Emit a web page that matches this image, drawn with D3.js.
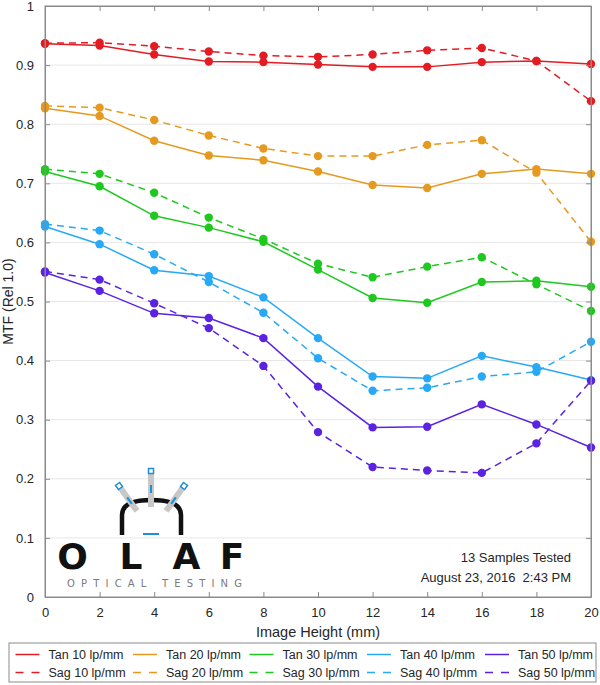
<!DOCTYPE html>
<html><head><meta charset="utf-8">
<script src="https://cdn.jsdelivr.net/npm/d3@7"></script>
<style>
html,body{margin:0;padding:0;background:#fff;}
svg{display:block;font-family:"Liberation Sans",Arial,sans-serif;}
</style></head>
<body>
<svg id="c" width="600" height="685"></svg>
<script>
const imageHeight = [0,2,4,6,8,10,12,14,16,18,20];
const seriesNames = ["Tan 10 lp/mm","Tan 20 lp/mm","Tan 30 lp/mm","Tan 40 lp/mm","Tan 50 lp/mm",
                     "Sag 10 lp/mm","Sag 20 lp/mm","Sag 30 lp/mm","Sag 40 lp/mm","Sag 50 lp/mm"];
const tan10 = [.936,.933,.918,.906,.905,.901,.897,.897,.905,.907,.902];
const tan20 = [.827,.814,.772,.747,.739,.720,.697,.692,.716,.724,.716];
const tan30 = [.720,.695,.645,.625,.601,.554,.506,.498,.533,.535,.525];
const tan40 = [.627,.597,.553,.543,.507,.438,.373,.370,.408,.389,.367];
const tan50 = [.549,.518,.480,.472,.438,.356,.287,.288,.326,.292,.253];
const sag10 = [.937,.938,.932,.923,.916,.914,.918,.925,.929,.907,.839];
const sag20 = [.831,.828,.807,.781,.759,.746,.746,.765,.773,.718,.601];
const sag30 = [.724,.716,.684,.642,.606,.564,.541,.559,.575,.529,.484];
const sag40 = [.631,.620,.580,.533,.481,.404,.349,.354,.373,.381,.432];
const sag50 = [.551,.537,.497,.455,.391,.279,.220,.214,.210,.260,.366];
const seriesValues = [tan10,tan20,tan30,tan40,tan50,sag10,sag20,sag30,sag40,sag50];
const colors = ["#e31c23","#e6991f","#1ec81e","#27a9f5","#5a23e0"];
const xTicks = [0,2,4,6,8,10,12,14,16,18,20];
const yTicks = [0,0.1,0.2,0.3,0.4,0.5,0.6,0.7,0.8,0.9,1];
const yTickLabels = ["0","0.1","0.2","0.3","0.4","0.5","0.6","0.7","0.8","0.9","1"];
const xLabel = "Image Height (mm)";
const yLabel = "MTF (Rel 1.0)";
const notes = ["13 Samples Tested","August 23, 2016  2:43 PM"];

const svg = d3.select("#c");
const L = 45, R = 591, T = 6, B = 597;
const x = d3.scaleLinear().domain([0,20]).range([L,R]);
const y = d3.scaleLinear().domain([0,1]).range([B,T]);
const axisCol = "#8a8a8a";

// grid
svg.append("g").selectAll("line").data(yTicks.slice(1,-1)).join("line")
  .attr("x1",L).attr("x2",R).attr("y1",d=>y(d)).attr("y2",d=>y(d))
  .attr("stroke","#e6e6e6").attr("stroke-width",1);

// logo
const logo = svg.append("g");
logo.append("path").attr("d","M122,535 L122,515 Q122,500 151.5,500 Q181,500 181,515 L181,535")
  .attr("fill","none").attr("stroke","#111").attr("stroke-width",4.5);
logo.append("line").attr("x1",143).attr("x2",159).attr("y1",534).attr("y2",534).attr("stroke","#1e8fd8").attr("stroke-width",2);
function bar(x1,y1,x2,y2){
  logo.append("line").attr("x1",x1).attr("y1",y1).attr("x2",x2).attr("y2",y2)
    .attr("stroke","#c8c8c8").attr("stroke-width",6);
  const dx=x2-x1, dy=y2-y1, len=Math.hypot(dx,dy), ux=dx/len, uy=dy/len;
  logo.append("line").attr("x1",x1+ux*14).attr("y1",y1+uy*14).attr("x2",x1+ux*22).attr("y2",y1+uy*22)
    .attr("stroke","#1e8fd8").attr("stroke-width",2);
  logo.append("rect").attr("x",x1-2.5).attr("y",y1-2.5).attr("width",5).attr("height",5)
    .attr("fill","#fff").attr("stroke","#1e8fd8").attr("stroke-width",1.5)
    .attr("transform",`rotate(${Math.atan2(dy,dx)*180/Math.PI-90},${x1},${y1})`);
}
bar(151,471,151,507);
bar(119,486,137,511);
bar(184,486,166,511);
const letters = [["O",72.5],["L",131],["A",186.5],["F",232]];
logo.selectAll("text.big").data(letters).join("text").attr("class","big")
  .attr("x",d=>d[1]).attr("y",569).attr("text-anchor","middle")
  .attr("font-family","'DejaVu Sans',sans-serif").attr("font-weight","bold").attr("font-size",36)
  .attr("fill","#111").text(d=>d[0]);
logo.append("text").attr("x",67).attr("y",586.5).attr("textLength",175).attr("lengthAdjust","spacing")
  .attr("font-family","'DejaVu Sans',sans-serif").attr("font-size",10).attr("fill","#7a7a7a")
  .text("OPTICAL TESTING");

// series
const lineGen = d3.line().x((d,i)=>x(imageHeight[i])).y(d=>y(d));
seriesValues.forEach((vals,k)=>{
  const col = colors[k%5], dashed = k>=5;
  const g = svg.append("g");
  g.append("path").attr("d",lineGen(vals)).attr("fill","none").attr("stroke",col)
    .attr("stroke-width",1.5).attr("stroke-dasharray",dashed?"7,5":null);
  g.selectAll("circle").data(vals).join("circle")
    .attr("cx",(d,i)=>x(imageHeight[i])).attr("cy",d=>y(d)).attr("r",4.2).attr("fill",col);
});

// box & axes
svg.append("rect").attr("x",L).attr("y",T).attr("width",R-L).attr("height",B-T)
  .attr("fill","none").attr("stroke",axisCol).attr("stroke-width",1);
const axBottom = d3.axisBottom(x).tickValues(xTicks).tickSizeInner(-5).tickSizeOuter(0).tickPadding(11);
const axTop = d3.axisTop(x).tickValues(xTicks).tickSizeInner(-5).tickSizeOuter(0).tickFormat("");
const axLeft = d3.axisLeft(y).tickValues(yTicks).tickSizeInner(-5).tickSizeOuter(0).tickPadding(11)
  .tickFormat((d,i)=>yTickLabels[i]);
const axRight = d3.axisRight(y).tickValues(yTicks).tickSizeInner(-5).tickSizeOuter(0).tickFormat("");
function styleAx(g){
  g.select(".domain").attr("stroke",axisCol);
  g.selectAll(".tick line").attr("stroke",axisCol);
  g.selectAll(".tick text").attr("fill","#262626").attr("font-size",13)
    .attr("font-family","'Liberation Sans',Arial,sans-serif");
}
svg.append("g").attr("transform",`translate(0,${B})`).call(axBottom).call(styleAx);
svg.append("g").attr("transform",`translate(0,${T})`).call(axTop).call(styleAx);
svg.append("g").attr("transform",`translate(${L},0)`).call(axLeft).call(styleAx);
svg.append("g").attr("transform",`translate(${R},0)`).call(axRight).call(styleAx);

svg.append("text").attr("x",(L+R)/2).attr("y",637).attr("text-anchor","middle")
  .attr("font-size",14.5).attr("fill","#262626").text(xLabel);
svg.append("text").attr("transform",`translate(13,${(T+B)/2}) rotate(-90)`).attr("text-anchor","middle")
  .attr("font-size",14).attr("fill","#262626").text(yLabel);

// notes
svg.selectAll("text.note").data(notes).join("text").attr("class","note")
  .attr("x",571).attr("y",(d,i)=>562+i*20).attr("text-anchor","end")
  .style("white-space","pre")
  .attr("font-size",13).attr("fill","#262626").text(d=>d);

// legend
const lg = svg.append("g");
lg.append("rect").attr("x",9).attr("y",643).attr("width",587).attr("height",39)
  .attr("fill","#fff").attr("stroke","#8a8a8a").attr("stroke-width",1);
const colX = [15.5,133,249.5,367,485];
seriesNames.forEach((name,k)=>{
  const c = k%5, r = Math.floor(k/5);
  const ly = r===0?654.5:672.5;
  lg.append("line").attr("x1",colX[c]).attr("x2",colX[c]+24).attr("y1",ly).attr("y2",ly)
    .attr("stroke",colors[c]).attr("stroke-width",1.5).attr("stroke-dasharray",r?"8,8":null);
  lg.append("text").attr("x",colX[c]+33).attr("y",ly+4.5).attr("font-size",12.5)
    .attr("fill","#262626").text(name);
});
</script>
</body></html>
